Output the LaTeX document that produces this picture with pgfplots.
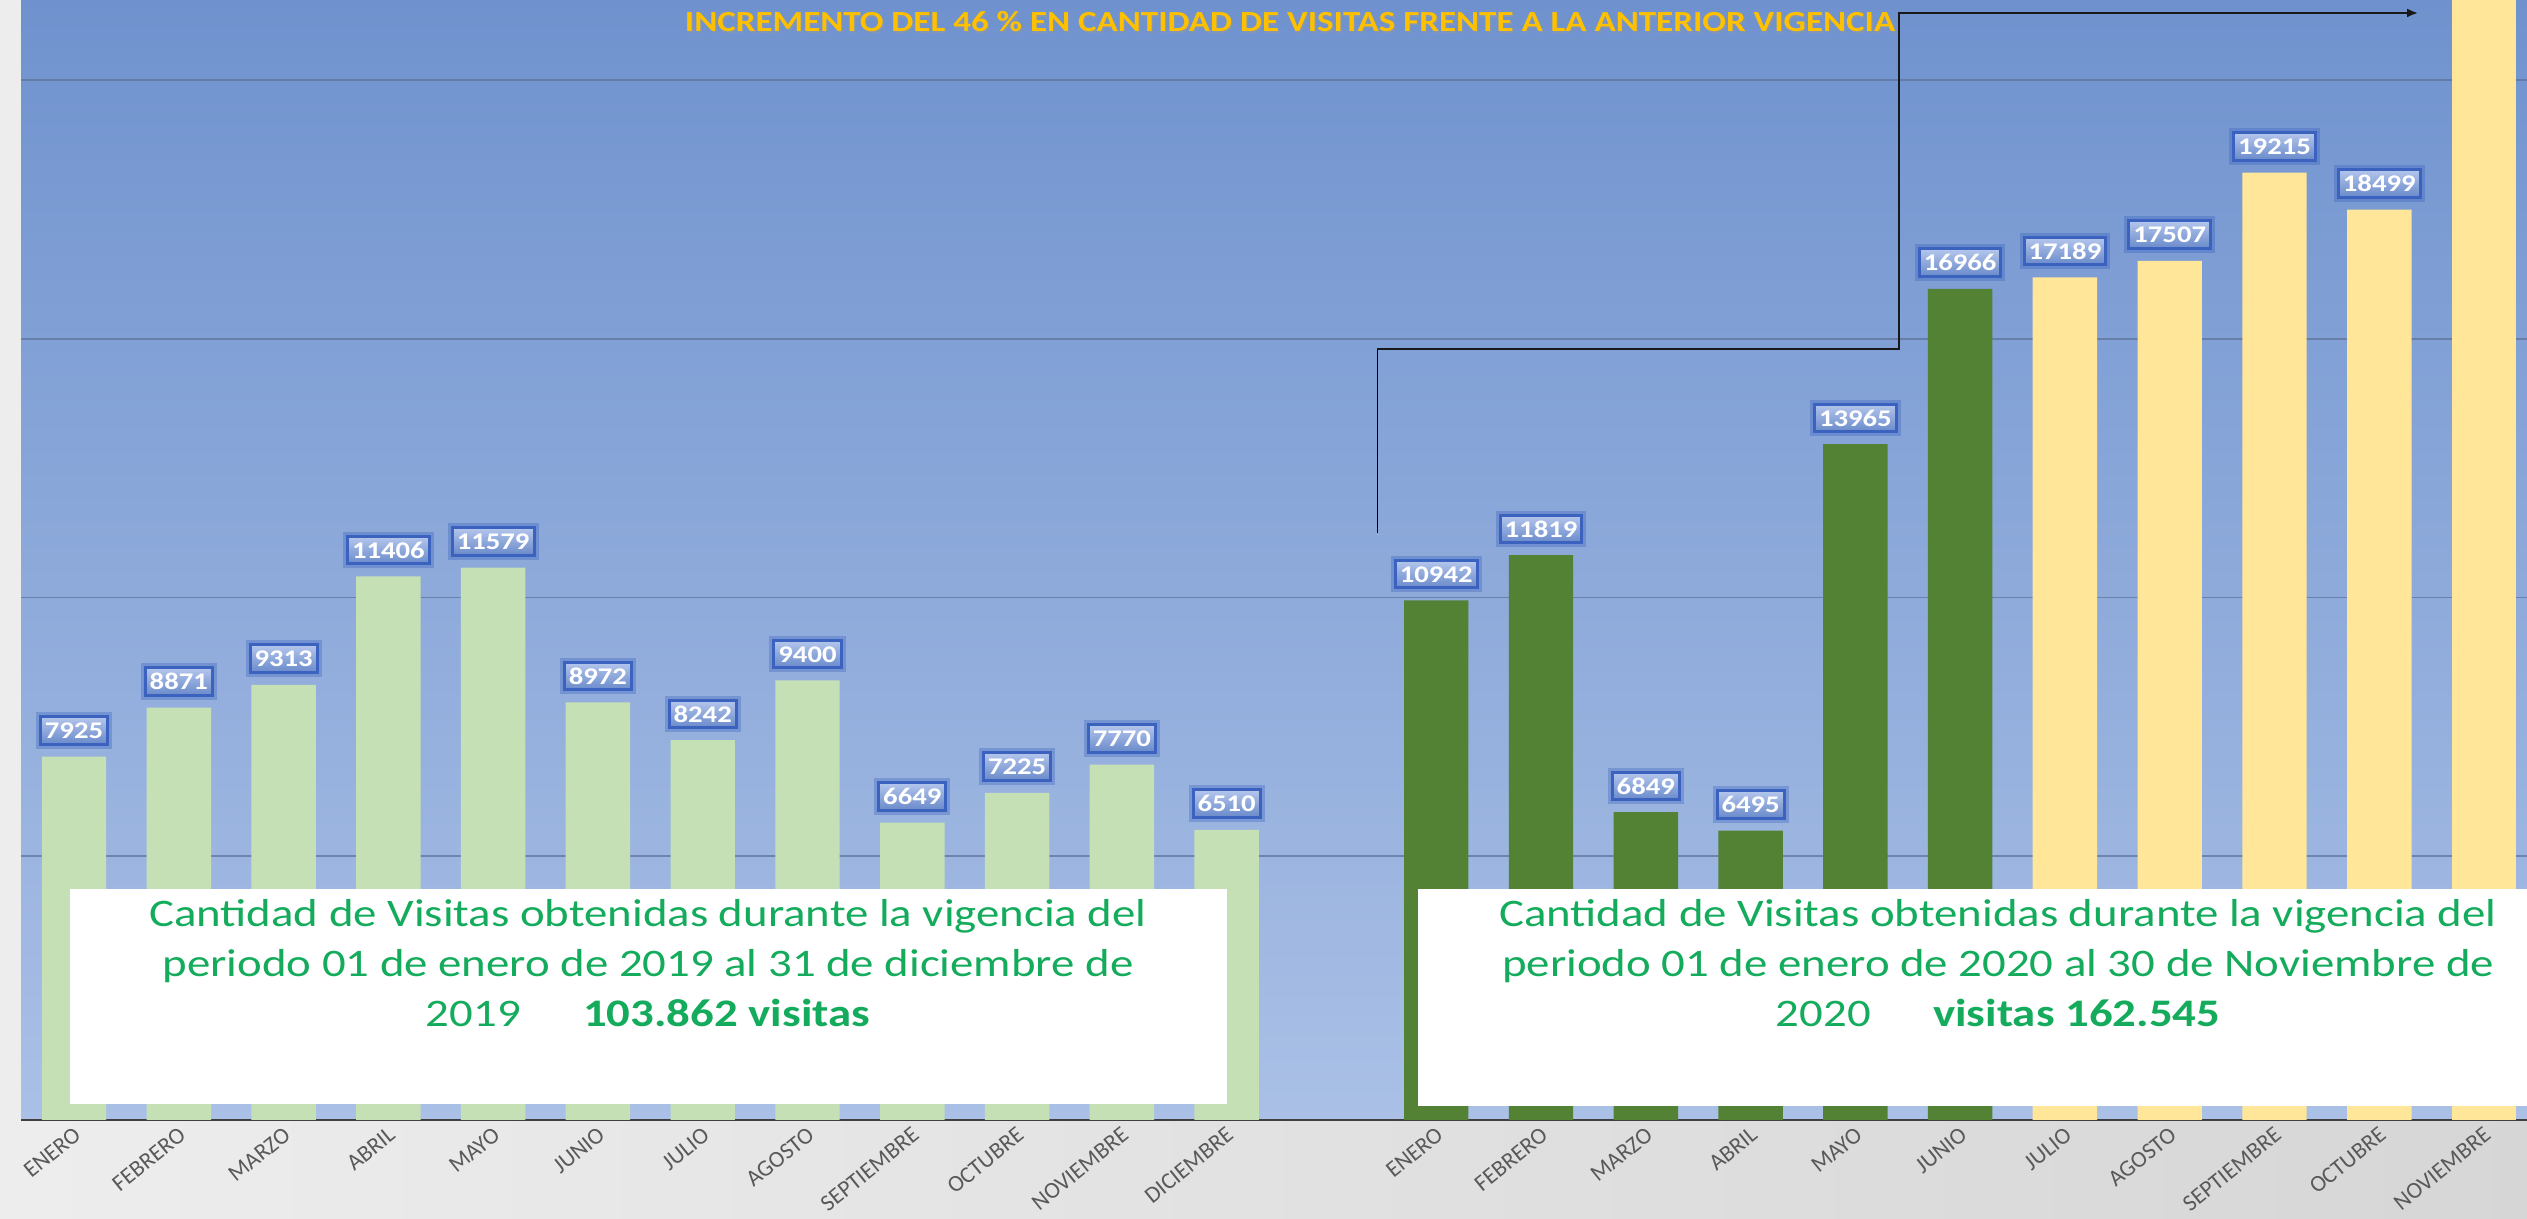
\documentclass[border=0pt]{standalone}
\usepackage{pgfplots}
\pgfplotsset{compat=1.18}
\usepackage{fontspec}
\setmainfont{Carlito}[FakeStretch=1.2]
\newfontfamily\tickfont{Carlito}
\usetikzlibrary{arrows.meta}
\definecolor{bgtop}{RGB}{111,146,206}
\definecolor{bgbot}{RGB}{170,192,230}
\definecolor{gA}{RGB}{197,224,180}
\definecolor{gB}{RGB}{84,130,53}
\definecolor{yC}{RGB}{255,230,153}
\definecolor{txtgreen}{RGB}{20,172,92}
\definecolor{ttl}{RGB}{255,192,0}
\definecolor{lbltop}{RGB}{180,198,236}
\definecolor{lblbot}{RGB}{105,138,202}
\definecolor{lbldraw}{RGB}{58,98,190}
\definecolor{gridc}{RGB}{92,112,150}
\definecolor{ticklbl}{RGB}{89,89,89}
\begin{document}
\begin{tikzpicture}
\path[use as bounding box] (0,0) rectangle (252.7mm,121.9mm);
\shade[left color=black!7, right color=black!16] (0,0) rectangle (252.7mm,121.9mm);
\begin{axis}[
  at={(2.1mm,9.9mm)}, anchor=south west,
  scale only axis, width=250.6mm, height=112mm,
  xmin=-0.506, xmax=23.41, ymin=900, ymax=22550,
  axis background/.style={top color=bgtop, bottom color=bgbot},
  axis x line=bottom, axis y line=left,
  x axis line style={-, draw=black!75, line width=0.25mm},
  y axis line style={draw=none},
  ytick={6000,11000,16000,21000}, yticklabels={},
  ytick style={draw=none}, xtick style={draw=none},
  ymajorgrids, major grid style={draw=gridc, line width=0.15mm, opacity=0.7},
  xtick={0,1,2,3,4,5,6,7,8,9,10,11,13,14,15,16,17,18,19,20,21,22,23},
  xticklabels={ENERO,FEBRERO,MARZO,ABRIL,MAYO,JUNIO,JULIO,AGOSTO,SEPTIEMBRE,OCTUBRE,NOVIEMBRE,DICIEMBRE,
               ENERO,FEBRERO,MARZO,ABRIL,MAYO,JUNIO,JULIO,AGOSTO,SEPTIEMBRE,OCTUBRE,NOVIEMBRE},
  xticklabel style={font=\tickfont\fontsize{6.6}{7}\selectfont, text=ticklbl, inner sep=0pt,
                    xshift=0.4mm, yshift=-0.4mm, rotate=39, anchor=east},
  /pgf/number format/assume math mode=true,
  nodes near coords={\pgfmathprintnumber[fixed,precision=0,1000 sep={}]{\pgfplotspointmeta}},
  every node near coord/.append style={font=\bfseries\fontsize{6.8}{7}\selectfont, text=white,
     top color=lbltop, bottom color=lblbot, draw=lbldraw, line width=0.3mm,
     preaction={draw=lbldraw, line width=0.9mm, draw opacity=0.35},
     inner xsep=0.45mm, inner ysep=0.55mm, text height=1.65mm, text depth=0mm,
     anchor=south, yshift=1.1mm},
]
\addplot[ybar, bar width=0.615, bar shift=0pt, fill=gA, draw=none] coordinates {
 (0,7925) (1,8871) (2,9313) (3,11406) (4,11579) (5,8972)
 (6,8242) (7,9400) (8,6649) (9,7225) (10,7770) (11,6510)};
\addplot[ybar, bar width=0.615, bar shift=0pt, fill=gB, draw=none] coordinates {
 (13,10942) (14,11819) (15,6849) (16,6495) (17,13965) (18,16966)};
\addplot[ybar, bar width=0.615, bar shift=0pt, fill=yC, draw=none] coordinates {
 (19,17189) (20,17507) (21,19215) (22,18499)};
\addplot[ybar, bar width=0.615, bar shift=0pt, fill=yC, draw=none, nodes near coords={}] coordinates {
 (23,23099)};
\end{axis}
\begin{scope}[x=0.1mm, y=-0.1mm, shift={(0,121.9mm)}]
 \fill[white] (70,889) rectangle (1227,1104);
 \fill[white] (1418,889) rectangle (2527,1106);
 \node[text=txtgreen, font=\fontsize{11.1}{14.2}\selectfont, align=center, anchor=north, inner sep=0pt]
   at (648,899) {Cantidad de Visitas obtenidas durante la vigencia del\\periodo 01 de enero de 2019 al 31 de diciembre de\\2019\hspace{1.6em}\textbf{103.862 visitas}};
 \node[text=txtgreen, font=\fontsize{11.1}{14.2}\selectfont, align=center, anchor=north, inner sep=0pt]
   at (1998,899) {Cantidad de Visitas obtenidas durante la vigencia del\\periodo 01 de enero de 2020 al 30 de Noviembre de\\2020\hspace{1.6em}\textbf{visitas 162.545}};
 \node[text=black!40, font=\bfseries\fontsize{8.3}{10}\selectfont, inner sep=0pt, opacity=0.5] at (1291.5,23.5)
   {INCREMENTO DEL 46 \% EN CANTIDAD DE VISITAS FRENTE A LA ANTERIOR VIGENCIA};
 \node[text=ttl, font=\bfseries\fontsize{8.3}{10}\selectfont, inner sep=0pt] at (1290,22)
   {INCREMENTO DEL 46 \% EN CANTIDAD DE VISITAS FRENTE A LA ANTERIOR VIGENCIA};
 \draw[line width=0.1mm, black] (1377,533) -- (1377,349);
 \draw[line width=0.2mm, black!90, -{Latex[length=1.1mm,width=0.9mm]}] (1377,349) -- (1899,349) -- (1899,13) -- (2418,13);
\end{scope}
\end{tikzpicture}
\end{document}
